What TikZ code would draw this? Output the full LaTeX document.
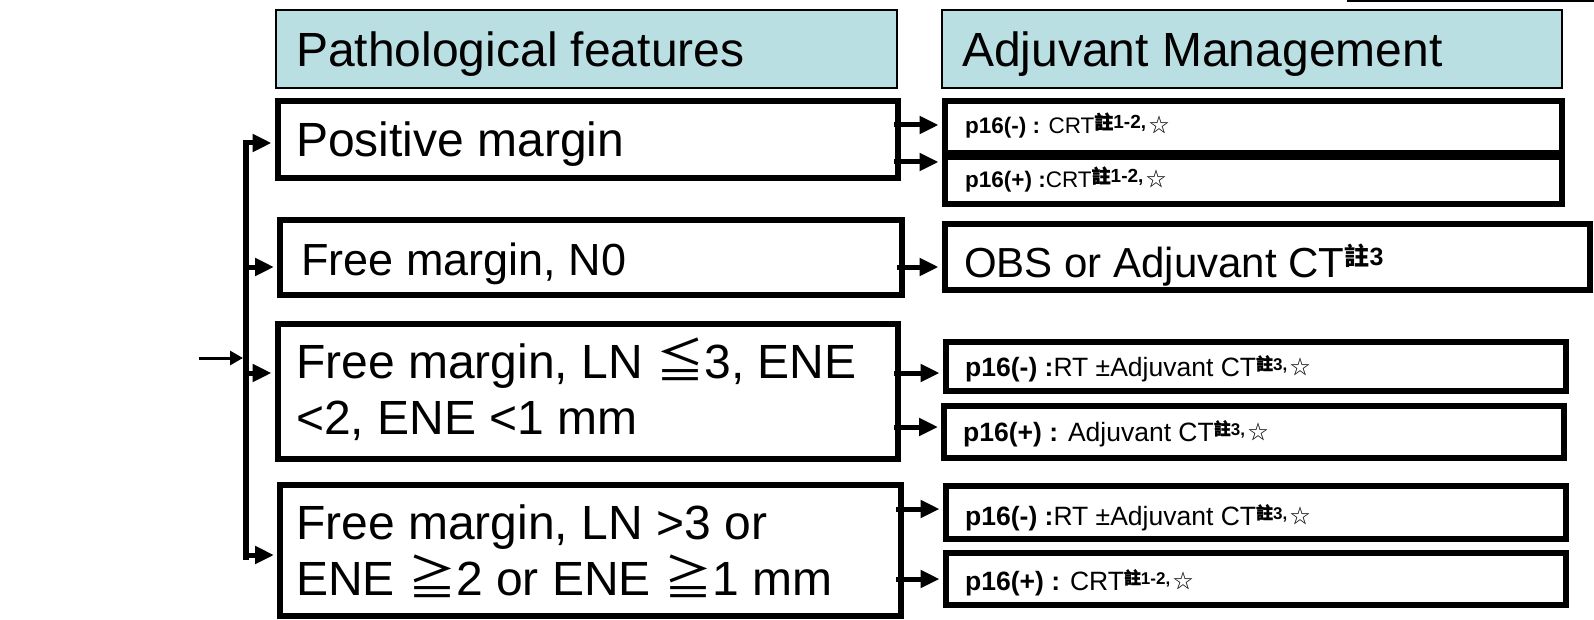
\documentclass[tikz,border=0pt]{standalone}
\usepackage{fontspec}
\setmainfont{Liberation Sans}
\newfontfamily\cjk{Noto Sans CJK TC}
\newfontfamily\cjkb[FakeBold=1.2]{Noto Sans CJK TC}
\usetikzlibrary{arrows.meta}
\definecolor{headfill}{RGB}{186,223,227}
\newcommand\fsz[1]{\fontsize{#1}{#1}\selectfont}
\newcommand\smnote[1]{\raisebox{6pt}{\fsz{17}\bfseries #1}}
\newcommand\topnote[1]{\raisebox{5pt}{\fsz{19}\bfseries #1}}
\newcommand\bignote[1]{\raisebox{12pt}{\fsz{25}\bfseries #1}}
\newcommand\wstar{\hspace{3pt}\raisebox{1.5pt}{\cjk\fsz{20}☆}}
\begin{document}
\begin{tikzpicture}[x=1pt,y=-1pt,
  hd/.style={draw, line width=1.5pt, fill=headfill, inner sep=0pt, rectangle},
  bx/.style={draw, line width=6pt, inner sep=0pt, rectangle},
  big/.style={anchor=base west, inner sep=0pt, font=\fsz{48}},
  mid/.style={anchor=base west, inner sep=0pt, font=\fsz{42}},
  sml/.style={anchor=base west, inner sep=0pt, font=\fsz{26.5}},
  tsml/.style={anchor=base west, inner sep=0pt, font=\fsz{22.5}},
  arr/.style={line width=5pt, -{Triangle[length=19pt,width=17pt]}, shorten >=3pt},
  inarr/.style={line width=3pt, -{Triangle[length=13pt,width=14pt]}, shorten >=3pt}]
\useasboundingbox (0,0) rectangle (1594,620);
\draw[line width=2pt] (1347,1) -- (1594,1);
% headers
\node[hd, minimum width=621pt, minimum height=78pt] (h1) at (586.5,49) {};
\node[hd, minimum width=620pt, minimum height=78pt] (h2) at (1252,49) {};
\node[big] (th1) at (296,67) {Pathological features};
\node[big] (th2) at (962,67) {Adjuvant Management};
% left boxes
\node[bx, minimum width=620.5pt, minimum height=77pt] (b1) at (587.75,139.5) {};
\node[bx, minimum width=622pt, minimum height=75pt] (b2) at (591,257.5) {};
\node[bx, minimum width=620.5pt, minimum height=135pt] (b3) at (587.75,391.5) {};
\node[bx, minimum width=621pt, minimum height=131.5pt] (b4) at (590.5,550.25) {};
\node[big] (tb1) at (296,157) {Positive margin};
\node[big, font=\fsz{45}] (tb2) at (301,276) {Free margin, N0};
\node[big] (tb3a) at (296,378) {Free margin, LN {\cjk ≦}3, ENE};
\node[big] (tb3b) at (296,434) {<2, ENE <1 mm};
\node[big] (tb4a) at (296,539) {Free margin, LN >3 or};
\node[big] (tb4b) at (296,595) {ENE {\cjk ≧}2 or ENE {\cjk ≧}1 mm};
% right boxes
\node[bx, minimum width=617.5pt, minimum height=52pt] (r1a) at (1253.25,127) {};
\node[bx, minimum width=617.5pt, minimum height=47.5pt] (r1b) at (1253.25,180.75) {};
\node[bx, minimum width=645.5pt, minimum height=65.5pt] (r2) at (1267.25,256.75) {};
\node[bx, minimum width=620pt, minimum height=49pt] (r3a) at (1255.5,366.5) {};
\node[bx, minimum width=619.5pt, minimum height=51.5pt] (r3b) at (1253.75,431.75) {};
\node[bx, minimum width=620pt, minimum height=52.5pt] (r4a) at (1255.5,512.25) {};
\node[bx, minimum width=620pt, minimum height=52pt] (r4b) at (1255.5,579) {};
\node[tsml] (tr1a) at (965,134) {{\bfseries p16(-) :} CRT\topnote{{\cjkb 註}1-2,}\wstar};
\node[tsml] (tr1b) at (965,188) {{\bfseries p16(+) :}CRT\topnote{{\cjkb 註}1-2,}\wstar};
\node[mid] (tr2) at (964,277) {OBS or Adjuvant CT\bignote{{\cjk 註}3}};
\node[sml] (tr3a) at (965,376) {{\bfseries p16(-) :}RT ±Adjuvant CT\smnote{{\cjkb 註}3,}\wstar};
\node[sml] (tr3b) at (963,441) {{\bfseries p16(+) :} Adjuvant CT\smnote{{\cjkb 註}3,}\wstar};
\node[sml] (tr4a) at (965,525) {{\bfseries p16(-) :}RT ±Adjuvant CT\smnote{{\cjkb 註}3,}\wstar};
\node[sml] (tr4b) at (965,590) {{\bfseries p16(+) :} CRT\smnote{{\cjkb 註}1-2,}\wstar};
% left bracket
\coordinate (jt) at (246,140.5);
\coordinate (jb) at (246,559.5);
\draw[line width=6pt] (jt) -- (jb);
\coordinate (s1) at (243,143);
\coordinate (s2) at (243,267);
\coordinate (s3) at (243,373);
\coordinate (s4) at (243,555);
\draw[arr] (s1) -- (s1 -| b1.west);
\draw[arr] (s2) -- (s2 -| b2.west);
\draw[arr] (s3) -- (s3 -| b3.west);
\draw[arr] (s4) -- (s4 -| b4.west);
\coordinate (in) at (199,358);
\draw[inarr] (in) -- (in -| jt);
% right arrows
\coordinate (o1) at (894,125);
\coordinate (o2) at (894,162);
\coordinate (o3) at (897,267);
\coordinate (o4) at (894,373);
\coordinate (o5) at (894,427);
\coordinate (o6) at (896,509);
\coordinate (o7) at (896,579);
\draw[arr] (o1) -- (o1 -| r1a.west);
\draw[arr] (o2) -- (o2 -| r1b.west);
\draw[arr] (o3) -- (o3 -| r2.west);
\draw[arr] (o4) -- (o4 -| r3a.west);
\draw[arr] (o5) -- (o5 -| r3b.west);
\draw[arr] (o6) -- (o6 -| r4a.west);
\draw[arr] (o7) -- (o7 -| r4b.west);
\end{tikzpicture}
\end{document}
